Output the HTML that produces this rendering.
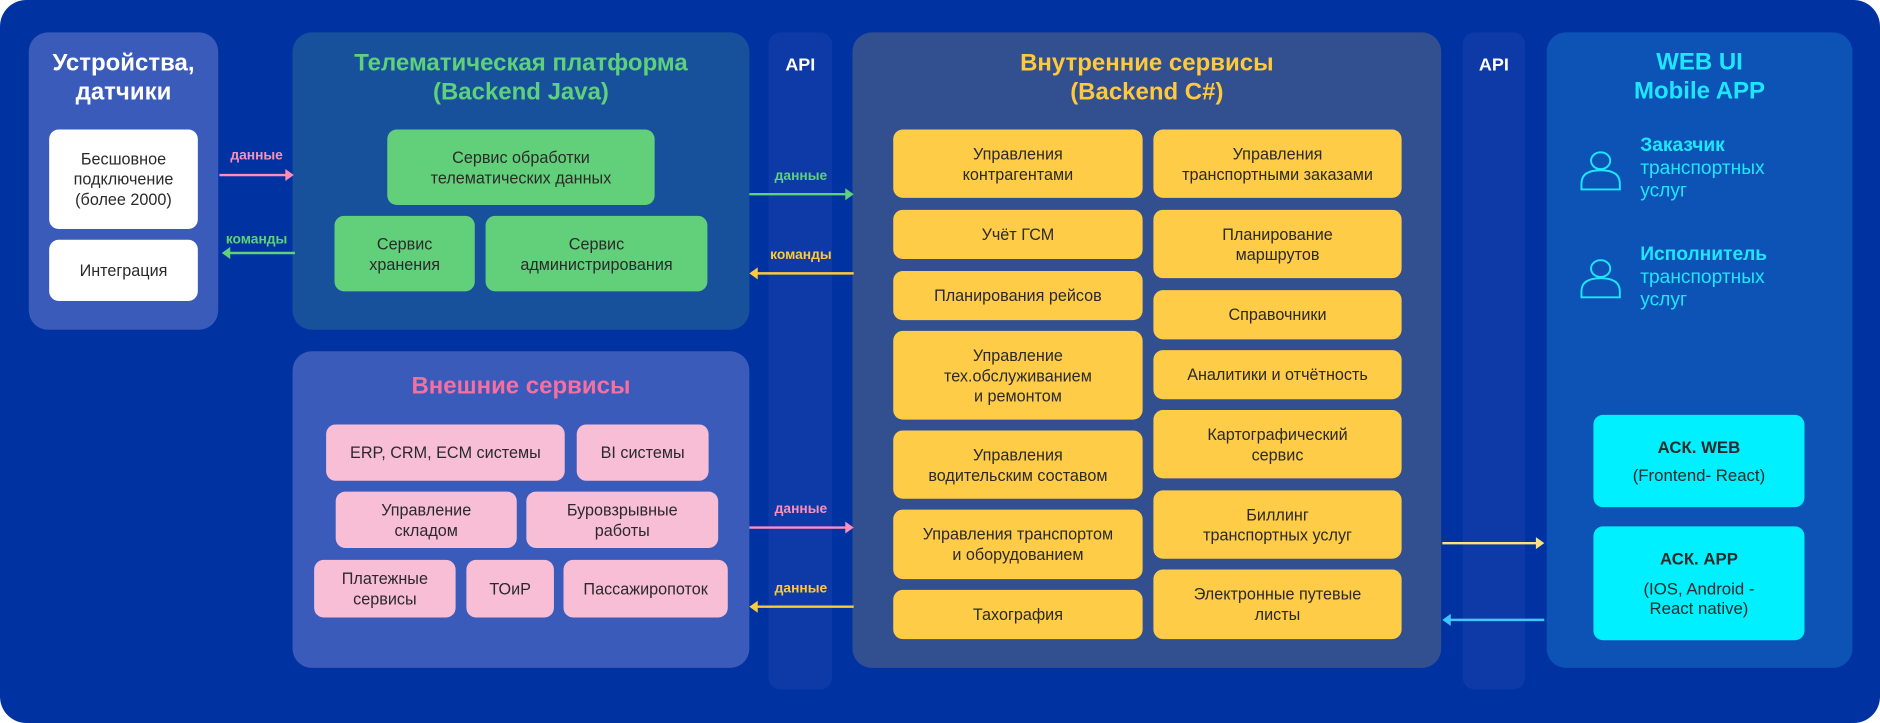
<!DOCTYPE html>
<html><head><meta charset="utf-8">
<style>
html,body{margin:0;padding:0;background:#fff;width:1880px;height:723px;overflow:hidden}
#w{position:absolute;left:0;top:0;width:1568px;height:603px;transform:scale(1.19898,1.19900);transform-origin:0 0;font-family:"Liberation Sans","DejaVu Sans",sans-serif}
.a{position:absolute;box-sizing:border-box}
.bg{left:0;top:0;width:1568px;height:603px;background:#0033a1;border-radius:22px}
.p{border-radius:16px}
.b{border-radius:8px;display:flex;align-items:center;justify-content:center;text-align:center;font-size:13.5px;line-height:17px;color:#2a2a2a}
.t{text-align:center;font-weight:bold;font-size:20px;line-height:24px}
.w{background:#fff}.g{background:#62d07a}.k{background:#f8bed6}.y{background:#ffcc47}.c{background:#00f0ff}
.l{font-size:11.5px;font-weight:bold;text-align:center}
svg{position:absolute;left:0;top:0}
</style></head><body><div id="w">
<div class="a bg"></div>
<div class="a p" style="left:24px;top:27px;width:158px;height:248px;background:#3a5bb9"></div>
<div class="a t" style="left:24px;top:41px;width:158px;color:#fff">Устройства,<br>датчики</div>
<div class="a b w" style="left:41px;top:108px;width:124px;height:83px">Бесшовное<br>подключение<br>(более 2000)</div>
<div class="a b w" style="left:41px;top:200px;width:124px;height:51px">Интеграция</div>

<div class="a p" style="left:244px;top:27px;width:381px;height:248px;background:#17519b"></div>
<div class="a t" style="left:244px;top:41px;width:381px;color:#5fd17a;font-weight:normal;font-weight:600">Телематическая платформа<br>(Backend Java)</div>
<div class="a b g" style="left:323px;top:108px;width:223px;height:63px">Сервис обработки<br>телематических данных</div>
<div class="a b g" style="left:279px;top:180px;width:117px;height:63px">Сервис<br>хранения</div>
<div class="a b g" style="left:405px;top:180px;width:185px;height:63px">Сервис<br>администрирования</div>

<div class="a p" style="left:244px;top:293px;width:381px;height:264px;background:#3a5bb9"></div>
<div class="a t" style="left:244px;top:310px;width:381px;color:#f56fa0">Внешние сервисы</div>
<div class="a b k" style="left:272px;top:354px;width:199px;height:47px">ERP, CRM, ECM системы</div>
<div class="a b k" style="left:481px;top:354px;width:110px;height:47px">BI системы</div>
<div class="a b k" style="left:280px;top:410px;width:151px;height:47px">Управление<br>складом</div>
<div class="a b k" style="left:439px;top:410px;width:160px;height:47px">Буровзрывные<br>работы</div>
<div class="a b k" style="left:262px;top:467px;width:118px;height:48px">Платежные<br>сервисы</div>
<div class="a b k" style="left:389px;top:467px;width:73px;height:48px">ТОиР</div>
<div class="a b k" style="left:470px;top:467px;width:137px;height:48px">Пассажиропоток</div>

<div class="a p" style="left:641px;top:27px;width:53px;height:548px;background:#0e3aa8;border-radius:10px"></div>
<div class="a" style="left:641px;top:46px;width:53px;text-align:center;color:#fff;font-weight:bold;font-size:15px">API</div>
<div class="a p" style="left:1220px;top:27px;width:52px;height:548px;background:#0e3aa8;border-radius:10px"></div>
<div class="a" style="left:1220px;top:46px;width:52px;text-align:center;color:#fff;font-weight:bold;font-size:15px">API</div>

<div class="a p" style="left:711px;top:27px;width:491px;height:530px;background:#324f8f"></div>
<div class="a t" style="left:711px;top:41px;width:491px;color:#ffc93c">Внутренние сервисы<br>(Backend C#)</div>
<div class="a b y" style="left:745px;top:108px;width:208px;height:57px">Управления<br>контрагентами</div>
<div class="a b y" style="left:745px;top:175px;width:208px;height:41px">Учёт ГСМ</div>
<div class="a b y" style="left:745px;top:226px;width:208px;height:41px">Планирования рейсов</div>
<div class="a b y" style="left:745px;top:276px;width:208px;height:74px">Управление<br>тех.обслуживанием<br>и ремонтом</div>
<div class="a b y" style="left:745px;top:359px;width:208px;height:57px">Управления<br>водительским составом</div>
<div class="a b y" style="left:745px;top:425px;width:208px;height:58px">Управления транспортом<br>и оборудованием</div>
<div class="a b y" style="left:745px;top:492px;width:208px;height:41px">Тахография</div>
<div class="a b y" style="left:962px;top:108px;width:207px;height:57px">Управления<br>транспортными заказами</div>
<div class="a b y" style="left:962px;top:175px;width:207px;height:57px">Планирование<br>маршрутов</div>
<div class="a b y" style="left:962px;top:242px;width:207px;height:41px">Справочники</div>
<div class="a b y" style="left:962px;top:292px;width:207px;height:41px">Аналитики и отчётность</div>
<div class="a b y" style="left:962px;top:342px;width:207px;height:57px">Картографический<br>сервис</div>
<div class="a b y" style="left:962px;top:409px;width:207px;height:57px">Биллинг<br>транспортных услуг</div>
<div class="a b y" style="left:962px;top:475px;width:207px;height:58px">Электронные путевые<br>листы</div>

<div class="a p" style="left:1290px;top:27px;width:255px;height:530px;background:#0c53b5"></div>
<div class="a t" style="left:1290px;top:40px;width:255px;color:#1ee6ff;font-weight:normal;font-weight:600">WEB UI<br>Mobile APP</div>
<div class="a" style="left:1368px;top:112px;color:#1ee6ff;font-size:16px;line-height:19px"><b>Заказчик</b><br>транспортных<br>услуг</div>
<div class="a" style="left:1368px;top:203px;color:#1ee6ff;font-size:16px;line-height:19px"><b>Исполнитель</b><br>транспортных<br>услуг</div>
<div class="a b c" style="left:1329px;top:346px;width:176px;height:77px;font-size:14px;line-height:23px;flex-direction:column"><b>АСК. WEB</b>(Frontend- React)</div>
<div class="a b c" style="left:1329px;top:439px;width:176px;height:95px;font-size:14px;line-height:16px;flex-direction:column"><b style="margin-bottom:9px">АСК. APP</b>(IOS, Android -<br>React native)</div>

<div class="a l" style="left:183px;top:124px;width:62px;color:#ff8fb8">данные</div>
<div class="a l" style="left:183px;top:194px;width:62px;color:#5fd17a">команды</div>
<div class="a l" style="left:625px;top:141px;width:86px;color:#5fd17a">данные</div>
<div class="a l" style="left:625px;top:207px;width:86px;color:#ffc93c">команды</div>
<div class="a l" style="left:625px;top:419px;width:86px;color:#ff8fb8">данные</div>
<div class="a l" style="left:625px;top:485px;width:86px;color:#ffc93c">данные</div>

<svg width="1568" height="603" viewBox="0 0 1568 603">
<g stroke-width="2" fill="none">
<line x1="183" y1="146" x2="240" y2="146" stroke="#ff8fb8"/><path d="M238 141 L245 146 L238 151Z" fill="#ff8fb8" stroke="none"/>
<line x1="246" y1="211" x2="189" y2="211" stroke="#5fd17a"/><path d="M192 206 L185 211 L192 216Z" fill="#5fd17a" stroke="none"/>
<line x1="625" y1="162" x2="706" y2="162" stroke="#5fd17a"/><path d="M705 157 L712 162 L705 167Z" fill="#5fd17a" stroke="none"/>
<line x1="712" y1="228" x2="630" y2="228" stroke="#ffc93c"/><path d="M632 223 L625 228 L632 233Z" fill="#ffc93c" stroke="none"/>
<line x1="625" y1="440" x2="706" y2="440" stroke="#ff8fb8"/><path d="M705 435 L712 440 L705 445Z" fill="#ff8fb8" stroke="none"/>
<line x1="712" y1="506" x2="630" y2="506" stroke="#ffc93c"/><path d="M632 501 L625 506 L632 511Z" fill="#ffc93c" stroke="none"/>
<line x1="1203" y1="453" x2="1282" y2="453" stroke="#ffe07a"/><path d="M1281 448 L1288 453 L1281 458Z" fill="#ffe07a" stroke="none"/>
<line x1="1288" y1="517" x2="1208" y2="517" stroke="#3cc8ff"/><path d="M1210 512 L1203 517 L1210 522Z" fill="#3cc8ff" stroke="none"/>
<g stroke="#1ee6ff" stroke-width="1.6">
<ellipse cx="1335" cy="134" rx="8" ry="7"/><path d="M1319 158 L1319 153 Q1319 142 1335 142 Q1351 142 1351 153 L1351 158 Z"/>
<ellipse cx="1335" cy="224" rx="8" ry="7"/><path d="M1319 248 L1319 243 Q1319 232 1335 232 Q1351 232 1351 243 L1351 248 Z"/>
</g></g></svg>
</div></body></html>
